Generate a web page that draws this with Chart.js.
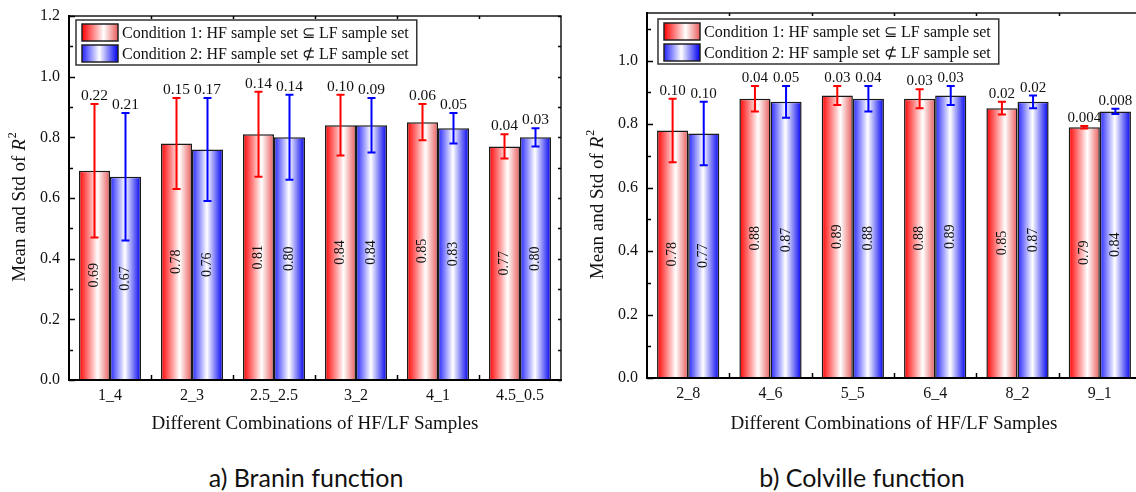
<!DOCTYPE html>
<html>
<head>
<meta charset="utf-8">
<script src="https://cdn.jsdelivr.net/npm/chart.js@4.4.1/dist/chart.umd.min.js"></script>
<style>
  html, body { margin: 0; padding: 0; background: #fff; overflow: hidden; }
  body { width: 1136px; height: 492px; position: relative; }
  canvas { position: absolute; top: 0; display: block; }
  .caption {
    position: absolute; top: 462px; transform: translateX(-50%);
    font-family: Lato, "Open Sans", sans-serif; font-size: 25px; color: #111; white-space: nowrap;
  }
</style>
</head>
<body>
<canvas id="branin" width="575" height="445" style="left:0"></canvas>
<canvas id="colville" width="580" height="445" style="left:570px"></canvas>
<div class="caption" style="left:306px">a) Branin function</div>
<div class="caption" style="left:862px">b) Colville function</div>

<script>
// Branin function: mean and std of R2 per HF/LF combination
const braninCombos = ["1_4", "2_3", "2.5_2.5", "3_2", "4_1", "4.5_0.5"]
const braninMean1 = [0.69, 0.78, 0.81, 0.84, 0.85, 0.77]
const braninStd1 = [0.22, 0.15, 0.14, 0.10, 0.06, 0.04]
const braninMean2 = [0.67, 0.76, 0.80, 0.84, 0.83, 0.80]
const braninStd2 = [0.21, 0.17, 0.14, 0.09, 0.05, 0.03]

// Colville function
const colvilleCombos = ["2_8", "4_6", "5_5", "6_4", "8_2", "9_1"]
const colvilleMean1 = [0.78, 0.88, 0.89, 0.88, 0.85, 0.79]
const colvilleStd1 = [0.10, 0.04, 0.03, 0.03, 0.02, 0.004]
const colvilleMean2 = [0.77, 0.87, 0.88, 0.89, 0.87, 0.84]
const colvilleStd2 = [0.10, 0.05, 0.04, 0.03, 0.02, 0.008]

const conditionLabels = [
  "Condition 1: HF sample set \u2286 LF sample set",
  "Condition 2: HF sample set \u2284 LF sample set",
]

const SERIF = "'Liberation Serif', 'Times New Roman', serif"
const PAIR = 0.756
const redStops = [[0, "#ff0000"], [0.6, "#ffffff"], [1, "#ea5a5a"]]
const blueStops = [[0, "#2323ff"], [0.48, "#ffffff"], [1, "#0000f0"]]
const errColors = ["#ff0000", "#0000ff"]

function gradient(ctx, left, right, stops) {
  const g = ctx.createLinearGradient(left, 0, right, 0)
  stops.forEach(([o, c]) => g.addColorStop(o, c))
  return g
}

function fmtStd(v) {
  return v < 0.01 ? v.toFixed(3) : v.toFixed(2)
}

function makeChart(id, cfg) {
  const { combos, means, stds, yMax, area, legendAt, stdFont } = cfg
  const canvas = document.getElementById(id)
  const stopsFor = [redStops, blueStops]

  const barFill = (c) => {
    const solid = stopsFor[c.datasetIndex][0][1]
    const x = c.chart.scales.x
    if (!x || c.type !== "data") return solid
    const center = x.getPixelForValue(c.dataIndex)
    const bw = x.width / combos.length * PAIR / 2
    const left = c.datasetIndex === 0 ? center - bw : center
    if (!isFinite(left) || !isFinite(bw) || bw <= 0) return solid
    return gradient(c.chart.ctx, left, left + bw, stopsFor[c.datasetIndex])
  }

  const decor = {
    id: "decor",
    afterDatasetsDraw(chart) {
      const ctx = chart.ctx
      const y = chart.scales.y
      ctx.save()
      means.forEach((series, di) => {
        const meta = chart.getDatasetMeta(di)
        meta.data.forEach((el, i) => {
          const m = series[i], s = stds[di][i]
          const yTop = y.getPixelForValue(m + s)
          const yBot = y.getPixelForValue(m - s)
          // error bar
          ctx.strokeStyle = errColors[di]
          ctx.lineWidth = 2
          ctx.beginPath()
          ctx.moveTo(el.x, yBot); ctx.lineTo(el.x, yTop)
          ctx.moveTo(el.x - 4, yTop); ctx.lineTo(el.x + 4, yTop)
          ctx.moveTo(el.x - 4, yBot); ctx.lineTo(el.x + 4, yBot)
          ctx.stroke()
          // std value above the cap
          ctx.fillStyle = "#111"
          ctx.font = stdFont + "px " + SERIF
          ctx.textAlign = "center"
          ctx.textBaseline = "alphabetic"
          ctx.fillText(fmtStd(s), el.x, yTop - 4)
          // mean value, rotated, at half bar height
          ctx.save()
          ctx.translate(el.x, y.getPixelForValue(m / 2))
          ctx.rotate(-Math.PI / 2)
          ctx.font = "14px " + SERIF
          ctx.textBaseline = "middle"
          ctx.fillText(m.toFixed(2), 0, 0)
          ctx.restore()
        })
      })
      ctx.restore()
    },
    afterDraw(chart) {
      const ctx = chart.ctx
      const a = chart.chartArea
      const x = chart.scales.x
      const y = chart.scales.y
      ctx.save()
      // frame
      ctx.strokeStyle = "#1a1a1a"
      ctx.lineWidth = 1.5
      ctx.beginPath()
      ctx.moveTo(a.left, a.top); ctx.lineTo(a.right, a.top); ctx.lineTo(a.right, a.bottom)
      ctx.stroke()
      ctx.strokeStyle = "#000"
      ctx.lineWidth = 2
      ctx.beginPath()
      ctx.moveTo(a.left, a.top - 1); ctx.lineTo(a.left, a.bottom); ctx.lineTo(a.right + 1, a.bottom)
      ctx.stroke()
      // y ticks pointing inward, major every 0.2 and minor every 0.1
      ctx.lineWidth = 1.5
      ctx.beginPath()
      for (let k = 0; k * 0.1 <= yMax + 1e-9; k++) {
        const py = Math.round(y.getPixelForValue(k * 0.1)) + 0.5
        const len = k % 2 === 0 ? 6 : 4
        ctx.moveTo(a.left, py); ctx.lineTo(a.left + len, py)
        ctx.moveTo(a.right, py); ctx.lineTo(a.right - 3, py)
      }
      // x ticks at category boundaries
      const step = x.width / combos.length
      for (let i = 1; i < combos.length; i++) {
        const px = Math.round(a.left + i * step) + 0.5
        ctx.moveTo(px, a.bottom); ctx.lineTo(px, a.bottom - 5)
        ctx.moveTo(px, a.top); ctx.lineTo(px, a.top + 3)
      }
      ctx.stroke()

      // legend box
      ctx.font = "16px " + SERIF
      const textW = Math.max(...conditionLabels.map(t => ctx.measureText(t).width))
      const bx = a.left + legendAt[0], by = a.top + legendAt[1]
      const bw = 46 + textW + 8, bh = 45
      ctx.fillStyle = "#fff"
      ctx.fillRect(bx, by, bw, bh)
      ctx.strokeStyle = "#333"
      ctx.lineWidth = 1.5
      ctx.strokeRect(bx, by, bw, bh)
      conditionLabels.forEach((t, i) => {
        const sx = bx + 6, sy = by + 4 + i * 21, sw = 36, sh = 17
        ctx.fillStyle = gradient(ctx, sx, sx + sw, stopsFor[i])
        ctx.fillRect(sx, sy, sw, sh)
        ctx.strokeStyle = "#222"
        ctx.strokeRect(sx, sy, sw, sh)
        ctx.fillStyle = "#111"
        ctx.textAlign = "left"
        ctx.textBaseline = "middle"
        ctx.fillText(t, bx + 46, sy + sh / 2 + 1)
      })

      // y axis title with italic R and superscript 2
      ctx.translate(a.left - 49, (a.top + a.bottom) / 2 + 9)
      ctx.rotate(-Math.PI / 2)
      const plain = "Mean and Std of "
      const fPlain = "19px " + SERIF, fItal = "italic 19px " + SERIF, fSup = "12px " + SERIF
      ctx.font = fPlain; const w1 = ctx.measureText(plain).width
      ctx.font = fItal; const w2 = ctx.measureText("R").width
      ctx.font = fSup; const w3 = ctx.measureText("2").width
      let tx = -(w1 + w2 + w3 + 1) / 2
      ctx.fillStyle = "#111"
      ctx.textAlign = "left"
      ctx.textBaseline = "middle"
      ctx.font = fPlain; ctx.fillText(plain, tx, 0); tx += w1
      ctx.font = fItal; ctx.fillText("R", tx, 0); tx += w2 + 1
      ctx.font = fSup; ctx.fillText("2", tx, -7)
      ctx.restore()
    },
  }

  return new Chart(canvas, {
    type: "bar",
    data: {
      labels: combos,
      datasets: means.map((series, di) => ({
        label: conditionLabels[di],
        data: series,
        backgroundColor: barFill,
        borderColor: "#1a1a1a",
        borderWidth: 1.5,
        categoryPercentage: PAIR,
        barPercentage: 1,
      })),
    },
    options: {
      responsive: false,
      animation: false,
      layout: { padding: { top: area.top, right: area.right, left: 0, bottom: 0 } },
      plugins: { legend: { display: false }, tooltip: { enabled: false } },
      scales: {
        x: {
          grid: { display: false, drawTicks: false },
          border: { display: false },
          ticks: { color: "#111", font: { family: SERIF, size: 16 }, padding: 6, maxRotation: 0, autoSkip: false },
          title: {
            display: true,
            text: "Different Combinations of HF/LF Samples",
            color: "#111",
            font: { family: SERIF, size: 19 },
            padding: { top: 0, bottom: 10 },
          },
          afterFit: s => { s.height = area.xHeight },
        },
        y: {
          min: 0,
          max: yMax,
          grid: { display: false, drawTicks: false },
          border: { display: false },
          ticks: {
            stepSize: 0.2,
            color: "#111",
            font: { family: SERIF, size: 16 },
            padding: 9,
            callback: v => v.toFixed(1),
          },
          afterBuildTicks: s => {
            s.ticks = s.ticks.filter(t => Math.abs(t.value * 5 - Math.round(t.value * 5)) < 1e-6)
          },
          afterFit: s => {
            s.width = area.yWidth
            s.paddingTop = 0
            s.paddingBottom = 0
          },
        },
      },
    },
    plugins: [decor],
  })
}

makeChart("branin", {
  combos: braninCombos,
  means: [braninMean1, braninMean2],
  stds: [braninStd1, braninStd2],
  yMax: 1.2,
  area: { top: 16, right: 14, yWidth: 69, xHeight: 65 },
  legendAt: [7, 4],
  stdFont: 15.5,
})

makeChart("colville", {
  combos: colvilleCombos,
  means: [colvilleMean1, colvilleMean2],
  stds: [colvilleStd1, colvilleStd2],
  yMax: 1.15,
  area: { top: 13, right: 9, yWidth: 77, xHeight: 67 },
  legendAt: [11, 6],
  stdFont: 15,
})
</script>
</body>
</html>
